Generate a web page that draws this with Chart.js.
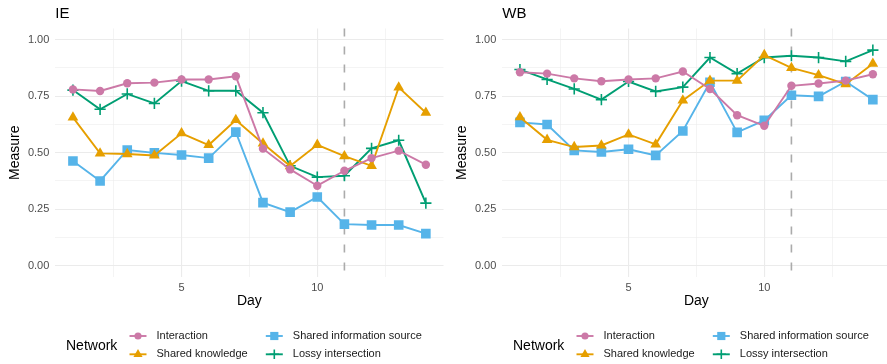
<!DOCTYPE html>
<html>
<head>
<meta charset="utf-8">
<title>Network measures by day</title>
<script src="https://cdn.jsdelivr.net/npm/chart.js@4.4.1/dist/chart.umd.min.js"></script>
<style>
  html, body { margin: 0; padding: 0; background: #ffffff; overflow: hidden; }
  #wrap { position: relative; width: 887px; height: 364px; overflow: hidden; }
  .panel { position: absolute; top: 0; width: 447px; height: 364px; }
  canvas { display: block; }
</style>
</head>
<body>
<div id="wrap">
  <div class="panel" style="left:0"><canvas id="ie" width="447" height="364"></canvas></div>
  <div class="panel" style="left:447px"><canvas id="wb" width="447" height="364"></canvas></div>
</div>
<script>
// ---- data ----
const days = [1, 2, 3, 4, 5, 6, 7, 8, 9, 10, 11, 12, 13, 14];
const networks = ['Interaction', 'Shared knowledge', 'Shared information source', 'Lossy intersection'];
const xTickValues = [2.5, 5, 7.5, 10, 12.5];
const xTickLabels = ['', '5', '', '10', ''];
const yTickValues = [0, 0.125, 0.25, 0.375, 0.5, 0.625, 0.75, 0.875, 1];
const yTickLabels = ['0.00', '', '0.25', '', '0.50', '', '0.75', '', '1.00'];
const breakDay = 11;

const ieInteraction = [0.780, 0.773, 0.807, 0.810, 0.824, 0.824, 0.838, 0.518, 0.426, 0.354, 0.420, 0.476, 0.509, 0.447];
const ieSharedKnowledge = [0.656, 0.497, 0.494, 0.488, 0.586, 0.534, 0.645, 0.541, 0.441, 0.535, 0.485, 0.442, 0.789, 0.677];
const ieSharedSource = [0.463, 0.375, 0.512, 0.499, 0.490, 0.476, 0.591, 0.279, 0.237, 0.304, 0.184, 0.180, 0.180, 0.142];
const ieLossy = [0.777, 0.692, 0.760, 0.718, 0.817, 0.774, 0.774, 0.677, 0.442, 0.392, 0.398, 0.519, 0.555, 0.277];

const wbInteraction = [0.856, 0.850, 0.829, 0.816, 0.824, 0.829, 0.859, 0.782, 0.666, 0.619, 0.796, 0.806, 0.819, 0.847];
const wbSharedKnowledge = [0.657, 0.557, 0.525, 0.532, 0.581, 0.537, 0.731, 0.819, 0.819, 0.932, 0.875, 0.843, 0.803, 0.894];
const wbSharedSource = [0.634, 0.625, 0.510, 0.503, 0.515, 0.488, 0.596, 0.812, 0.590, 0.643, 0.754, 0.749, 0.815, 0.735];
const wbLossy = [0.868, 0.824, 0.782, 0.735, 0.815, 0.771, 0.790, 0.921, 0.850, 0.921, 0.929, 0.921, 0.904, 0.954];

// ---- styling ----
const FONT = '"Liberation Sans", Arial, Helvetica, sans-serif';
const seriesStyle = [
  { color: '#CC79A7', shape: 'circle',   radius: 4.2 },
  { color: '#E69F00', shape: 'triangle', radius: 6.2 },
  { color: '#56B4E9', shape: 'rect',     radius: 6.8 },
  { color: '#009E73', shape: 'cross',    radius: 5.6 }
];

function isMajor(v, step) {
  const q = v / step;
  return Math.abs(q - Math.round(q)) < 1e-6;
}

function makeDatasets(seriesList) {
  return seriesList.map((vals, i) => {
    const st = seriesStyle[i];
    return {
      label: networks[i],
      data: vals.map((v, k) => ({ x: days[k], y: v })),
      borderColor: st.color,
      backgroundColor: st.color,
      borderWidth: 1.9,
      tension: 0,
      pointStyle: st.shape,
      pointRadius: st.radius,
      pointHoverRadius: st.radius,
      pointBackgroundColor: st.color,
      pointBorderColor: st.color,
      pointBorderWidth: st.shape === 'cross' ? 1.6 : 0
    };
  });
}

function drawMarker(ctx, shape, x, y, r, color) {
  ctx.save();
  ctx.fillStyle = color;
  ctx.strokeStyle = color;
  ctx.beginPath();
  if (shape === 'circle') {
    ctx.arc(x, y, r, 0, Math.PI * 2);
    ctx.fill();
  } else if (shape === 'rect') {
    const s = r * Math.SQRT1_2;
    ctx.rect(x - s, y - s, 2 * s, 2 * s);
    ctx.fill();
  } else if (shape === 'triangle') {
    for (let k = 0; k < 3; k++) {
      const a = -Math.PI / 2 + k * 2 * Math.PI / 3;
      const px = x + Math.cos(a) * r, py = y + Math.sin(a) * r;
      if (k === 0) ctx.moveTo(px, py); else ctx.lineTo(px, py);
    }
    ctx.closePath();
    ctx.fill();
  } else if (shape === 'cross') {
    ctx.lineWidth = 1.6;
    ctx.moveTo(x - r, y); ctx.lineTo(x + r, y);
    ctx.moveTo(x, y - r); ctx.lineTo(x, y + r);
    ctx.stroke();
  }
  ctx.restore();
}

// panel title, dashed reference line and the Network legend
const panelDecor = {
  id: 'panelDecor',
  beforeDatasetsDraw(chart, args, opts) {
    const { ctx, chartArea, scales } = chart;
    const x = scales.x.getPixelForValue(breakDay);
    ctx.save();
    ctx.strokeStyle = '#ABABAB';
    ctx.lineWidth = 1.6;
    ctx.setLineDash([8, 10]);
    ctx.beginPath();
    ctx.moveTo(x, chartArea.top);
    ctx.lineTo(x, chartArea.bottom);
    ctx.stroke();
    ctx.restore();
  },
  afterDraw(chart, args, opts) {
    const { ctx, chartArea } = chart;
    ctx.save();
    ctx.fillStyle = '#000000';
    ctx.textBaseline = 'middle';
    ctx.textAlign = 'left';
    ctx.font = '15px ' + FONT;
    ctx.fillText(opts.title, chartArea.left, 14);

    // legend
    ctx.font = '14px ' + FONT;
    ctx.fillText('Network', 66, 346);
    const cols = [138, 274.3];
    const rows = [336, 354.3];
    const slots = [[0, 0], [0, 1], [1, 0], [1, 1]];
    ctx.font = '11px ' + FONT;
    networks.forEach((name, i) => {
      const [c, r] = slots[i];
      const mx = cols[c], my = rows[r];
      const st = seriesStyle[i];
      ctx.save();
      ctx.strokeStyle = st.color;
      ctx.lineWidth = 1.9;
      ctx.beginPath();
      ctx.moveTo(mx - 8.5, my);
      ctx.lineTo(mx + 8.5, my);
      ctx.stroke();
      ctx.restore();
      drawMarker(ctx, st.shape, mx, my, st.radius * 0.85, st.color);
      ctx.fillStyle = '#1A1A1A';
      ctx.fillText(name, mx + 18.5, my);
    });
    ctx.restore();
  }
};

function makeChart(canvasId, title, seriesList) {
  return new Chart(document.getElementById(canvasId), {
    type: 'line',
    data: { datasets: makeDatasets(seriesList) },
    plugins: [panelDecor],
    options: {
      responsive: false,
      animation: false,
      events: [],
      layout: { autoPadding: false, padding: { left: 0, right: 3.5, top: 28.4, bottom: 54 } },
      plugins: {
        legend: { display: false },
        tooltip: { enabled: false },
        panelDecor: { title: title }
      },
      scales: {
        x: {
          type: 'linear',
          min: 0.35,
          max: 14.65,
          afterBuildTicks: (s) => { s.ticks = xTickValues.map(v => ({ value: v })); },
          afterFit: (s) => { s.height = 33; },
          border: { display: false },
          grid: {
            drawTicks: false,
            color: '#EBEBEB',
            lineWidth: (c) => (c.tick && isMajor(c.tick.value, 5)) ? 1.1 : 0.55
          },
          ticks: {
            autoSkip: false,
            maxRotation: 0,
            padding: 4,
            color: '#4D4D4D',
            font: { family: FONT, size: 11 },
            callback: (v, idx) => xTickLabels[idx]
          },
          title: {
            display: true,
            text: 'Day',
            color: '#000000',
            font: { family: FONT, size: 14 },
            padding: { top: 0, bottom: 0 }
          }
        },
        y: {
          type: 'linear',
          min: -0.05,
          max: 1.05,
          afterBuildTicks: (s) => { s.ticks = yTickValues.map(v => ({ value: v })); },
          afterFit: (s) => { s.width = 55.3; },
          border: { display: false },
          grid: {
            drawTicks: false,
            color: '#EBEBEB',
            lineWidth: (c) => (c.tick && isMajor(c.tick.value, 0.25)) ? 1.1 : 0.55
          },
          ticks: {
            autoSkip: false,
            padding: 6,
            color: '#4D4D4D',
            font: { family: FONT, size: 11 },
            callback: (v, idx) => yTickLabels[idx]
          },
          title: {
            display: true,
            text: 'Measure',
            color: '#000000',
            font: { family: FONT, size: 14 },
            padding: { top: 6.5, bottom: 0 }
          }
        }
      }
    }
  });
}

makeChart('ie', 'IE', [ieInteraction, ieSharedKnowledge, ieSharedSource, ieLossy]);
makeChart('wb', 'WB', [wbInteraction, wbSharedKnowledge, wbSharedSource, wbLossy]);
</script>
</body>
</html>
